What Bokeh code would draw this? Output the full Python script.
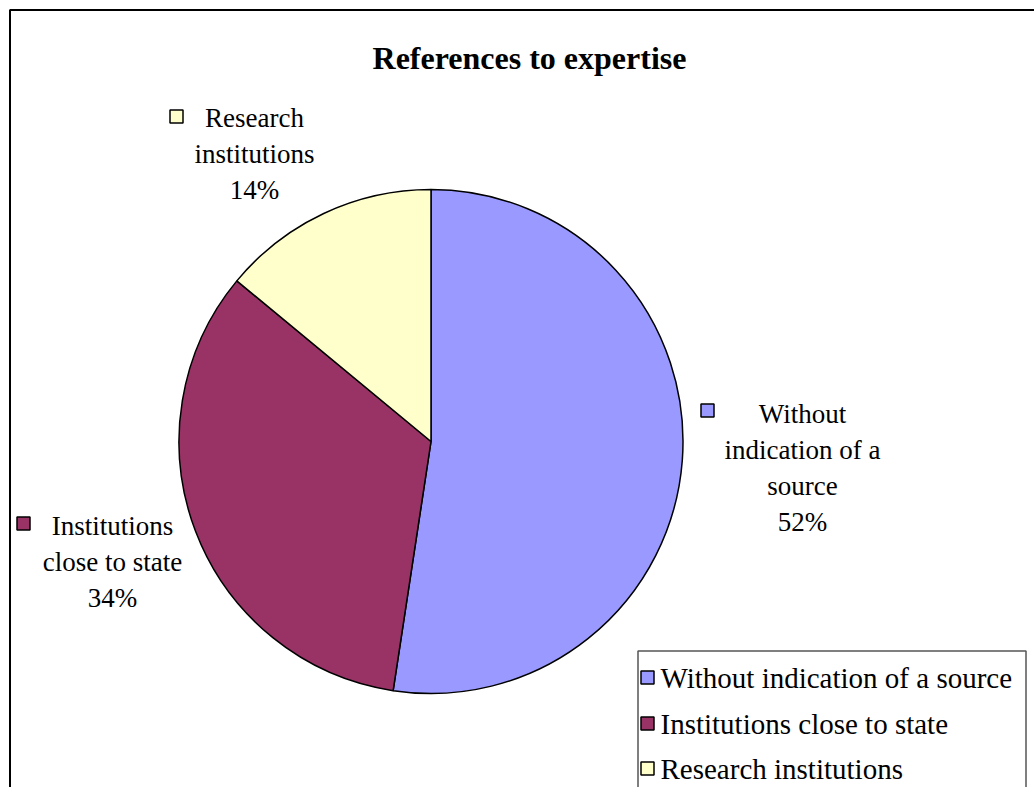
import math
from bokeh.plotting import figure
from bokeh.models import Range1d, ColumnDataSource
from bokeh.embed import file_html
from bokeh.resources import INLINE
from bokeh.core.properties import value

# ---- data ----
chart_title = "References to expertise"
categories = ["Without indication of a source", "Institutions close to state", "Research institutions"]
label_names = ["Without\nindication of a\nsource", "Institutions\nclose to state", "Research\ninstitutions"]
shares = [52.4, 33.6, 14.0]
colors = ["#9999FF", "#993366", "#FFFFCC"]

# ---- layout (pixel positions, top-left origin) ----
W, H = 1034, 787
FONT = "Liberation Serif"
cx, cy, r = 430.5, 441, 252
label_xy = [(802, 467), (112, 561), (254, 153)]
label_key_xy = [(707, 410), (23, 523), (176, 116)]
legend_box = (637, 650, 1025)  # left, top, right
legend_key_x, legend_text_x = 647, 660
legend_row_y = [677, 723, 768]


def Y(py):
    return H - py


p = figure(width=W, height=H, x_range=Range1d(0, W), y_range=Range1d(0, H),
           output_backend="svg", toolbar_location=None, min_border=0,
           x_axis_location=None, y_axis_location=None)
p.grid.visible = False
p.outline_line_color = None
p.background_fill_color = "white"
p.border_fill_color = "white"

# outer frame
p.quad(left=[9.5], right=[W + 20], top=[Y(9.5)], bottom=[-20],
       fill_color=None, line_color="black", line_width=2)

# pie
total = sum(shares)
starts, ends = [], []
cum = 0.0
for s in shares:
    a0 = math.pi / 2 - 2 * math.pi * cum / total
    cum += s
    a1 = math.pi / 2 - 2 * math.pi * cum / total
    starts.append(a1)
    ends.append(a0)

src = ColumnDataSource(dict(cat=categories, share=shares, color=colors,
                            start=starts, end=ends))
p.wedge(x=cx, y=Y(cy), radius=r, start_angle="start", end_angle="end",
        direction="anticlock", fill_color="color", line_color="black",
        line_width=1.5, source=src)

# data labels
pct = [f"{round(s / total * 100)}%" for s in shares]
lab = ColumnDataSource(dict(
    x=[xy[0] for xy in label_xy], y=[Y(xy[1]) for xy in label_xy],
    text=[f"{n}\n{q}" for n, q in zip(label_names, pct)],
    kx=[xy[0] for xy in label_key_xy], ky=[Y(xy[1]) for xy in label_key_xy],
    color=colors))
p.text(x="x", y="y", text="text", source=lab, text_font=value(FONT),
       text_font_size="27px", text_align="center", text_baseline="middle",
       text_line_height=1.2, text_color="black")
p.rect(x="kx", y="ky", width=13, height=13, fill_color="color",
       line_color="black", line_width=1.5, source=lab)

# title
p.text(x=[529], y=[Y(57)], text=[chart_title], text_font=value(FONT),
       text_font_size="32px", text_font_style="bold", text_align="center",
       text_baseline="middle", text_color="black")

# legend (manual, bottom-right, cut by page edge)
lx0, ly0, lx1 = legend_box
p.quad(left=[lx0 + 0.5], right=[lx1 + 0.5], top=[Y(ly0 + 0.5)], bottom=[-20],
       fill_color="white", line_color="#555555", line_width=1.5)
leg = ColumnDataSource(dict(
    x=[legend_key_x] * len(categories), tx=[legend_text_x] * len(categories),
    y=[Y(v) for v in legend_row_y], text=categories, color=colors))
p.rect(x="x", y="y", width=13, height=13, fill_color="color",
       line_color="black", line_width=1.5, source=leg)
p.text(x="tx", y="y", text="text", source=leg, text_font=value(FONT),
       text_font_size="29px", text_align="left", text_baseline="middle",
       text_color="black")

open("out.html", "w").write(file_html(p, INLINE))
